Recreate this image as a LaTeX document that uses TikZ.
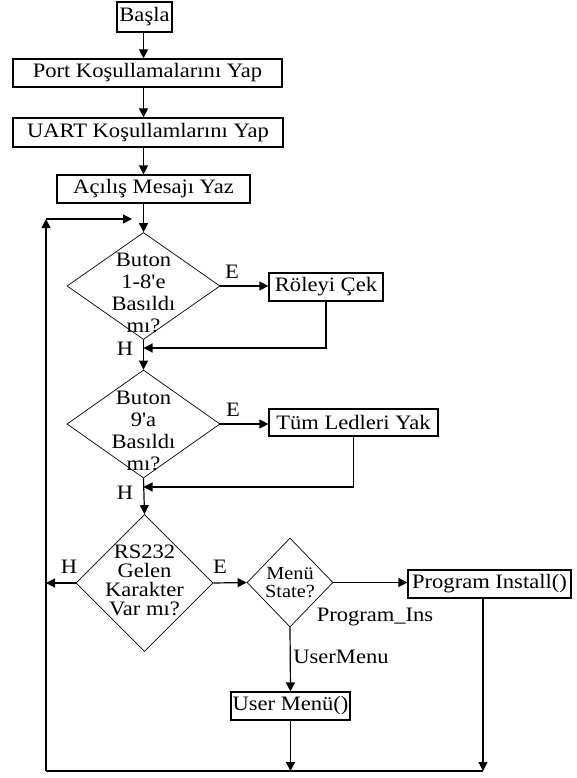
\documentclass[tikz,border=0pt]{standalone}
\usepackage{fontspec}
\setmainfont{Liberation Serif}[Ligatures=TeXOff, FakeStretch=1.1]
\usetikzlibrary{arrows.meta,shapes.geometric}
\tikzset{
  box/.style = {draw, line width=1.2pt, inner sep=0pt, font=\fontsize{20.5}{22}\selectfont},
  dia/.style = {draw, diamond, line width=0.7pt, inner sep=0pt},
  dtext/.style = {align=center, inner sep=0pt, font=\fontsize{20.5}{22}\selectfont},
  lbl/.style = {inner sep=0pt, font=\fontsize{20.5}{22}\selectfont},
  arr/.style = {-{Triangle[length=9pt,width=9pt]}}
}

\begin{document}
\begin{tikzpicture}[x=1pt, y=-1pt, line width=1.2pt]
\useasboundingbox (0,0) rectangle (576,778);
\coordinate (spine) at (143.5,0);
% boxes
\node[box, minimum width=55pt, minimum height=30pt] (basla) at (144.5,17) {Başla};
\node[box, minimum width=269pt, minimum height=28pt] (port) at (147.5,73) {Port Koşullamalarını Yap};
\node[box, minimum width=270pt, minimum height=29pt] (uart) at (148,132.5) {UART Koşullamlarını Yap};
\node[box, minimum width=193pt, minimum height=28pt] (acilis) at (153.5,189) {Açılış Mesajı Yaz};
\node[box, minimum width=114pt, minimum height=28pt] (role) at (326,287) {Röleyi Çek};
\node[box, minimum width=169pt, minimum height=27pt] (tum) at (353.5,422.5) {Tüm Ledleri Yak};
\node[box, minimum width=163pt, minimum height=28pt] (prog) at (489.5,584) {Program Install()};
\node[box, minimum width=119pt, minimum height=28pt] (user) at (290.5,706) {User Menü()};
% decisions
\node[dia, minimum width=153pt, minimum height=107pt] (d1) at (143.5,286) {};
\node[dtext] (d1t) at (143.5,293) {Buton\\1-8'e\\Basıldı\\mı?};
\node[dia, minimum width=153pt, minimum height=108pt] (d2) at (143.5,424) {};
\node[dtext] (d2t) at (143.5,431) {Buton\\9'a\\Basıldı\\mı?};
\node[dia, minimum width=137pt, minimum height=137pt] (d3) at (144.5,583) {};
\node[dtext, font=\fontsize{20.5}{19}\selectfont] (d3t) at (144.5,580) {RS232\\Gelen\\Karakter\\Var mı?};
\node[dia, minimum width=86pt, minimum height=89pt] (menu) at (290,582.5) {};
\node[dtext, font=\fontsize{18.5}{18}\selectfont] (menut) at (290,583) {Menü\\State?};
% loop points
\coordinate (lt) at (46,219);
\coordinate (lj) at (132,219);
\coordinate (bl) at (46,771);
\coordinate (br) at (483,771);
% main flow
\draw[arr] (basla.south -| spine) -- (port.north -| spine);
\draw[arr] (port.south -| spine) -- (uart.north -| spine);
\draw[arr] (uart.south -| spine) -- (acilis.north -| spine);
\draw[arr] (acilis.south -| spine) -- (d1.north);
\draw[arr] (d1.south) -- (d2.north);
\draw[arr] (d2.south) -- (d3.north);
\draw[arr] (d1.east) -- (role.west |- d1.east);
\draw[arr] (d2.east) -- (tum.west |- d2.east);
\draw[arr] (role.south) |- (spine |- 0,348);
\draw[arr] (tum.south) |- (spine |- 0,487);
\draw[arr] (d3.west) -- (d3.west -| lt);
\draw[arr] (d3.east) -- (menu.west);
\draw[arr] (menu.east) -- (prog.west |- menu.east);
\draw[arr] (menu.south) -- (user.north);
\draw[arr] (user.south) -- (user.south |- bl);
\draw[arr] (prog.south -| br) -- (br);
\draw (bl) -- (br);
\draw[arr] (bl) -- (lt);
\draw[arr] (lt) -- (lj);
% labels
\node[lbl] (e1) at (232,272) {E};
\node[lbl] (e2) at (233,410) {E};
\node[lbl] (e3) at (220,567) {E};
\node[lbl] (h1) at (125,349) {H};
\node[lbl] (h2) at (125,493) {H};
\node[lbl] (h3) at (69,567) {H};
\node[lbl] (pins) at (375,617) {Program\_Ins};
\node[lbl] (umenu) at (341,657) {UserMenu};
\end{tikzpicture}
\end{document}
